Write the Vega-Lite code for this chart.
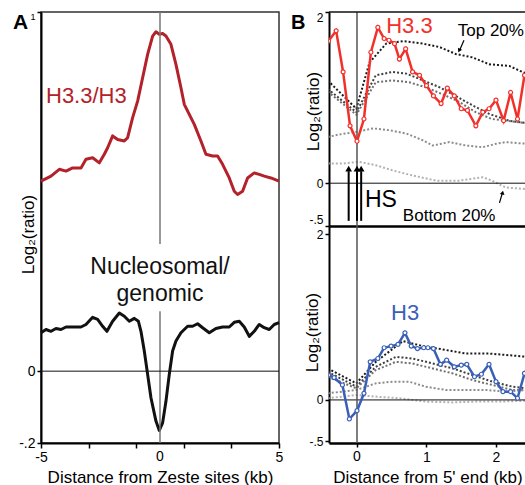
{
  "$schema": "https://vega.github.io/schema/vega-lite/v6.json",
  "padding": {"left": 12, "top": 10, "right": 0, "bottom": 0},
  "config": {
    "font": "Liberation Sans",
    "view": {"stroke": null},
    "axis": {"grid": false, "domainColor": "#000", "tickColor": "#000", "labelColor": "#000", "titleColor": "#000", "titleFontWeight": "normal", "labelFont": "Liberation Sans", "titleFont": "Liberation Sans"}
  },
  "datasets": {
    "zero": [{"v": 0}],
    "a": [
      {"s":"h33","x":-5.0,"y":0.529},{"s":"h33","x":-4.58,"y":0.543},{"s":"h33","x":-4.23,"y":0.562},{"s":"h33","x":-3.95,"y":0.557},{"s":"h33","x":-3.67,"y":0.566},{"s":"h33","x":-3.32,"y":0.566},{"s":"h33","x":-3.11,"y":0.590},{"s":"h33","x":-2.83,"y":0.594},{"s":"h33","x":-2.55,"y":0.580},{"s":"h33","x":-2.34,"y":0.604},{"s":"h33","x":-2.20,"y":0.622},{"s":"h33","x":-1.99,"y":0.655},{"s":"h33","x":-1.78,"y":0.645},{"s":"h33","x":-1.50,"y":0.641},{"s":"h33","x":-1.36,"y":0.650},{"s":"h33","x":-1.15,"y":0.706},{"s":"h33","x":-0.94,"y":0.752},{"s":"h33","x":-0.73,"y":0.817},{"s":"h33","x":-0.52,"y":0.882},{"s":"h33","x":-0.31,"y":0.933},{"s":"h33","x":-0.17,"y":0.945},{"s":"h33","x":-0.03,"y":0.938},{"s":"h33","x":0.11,"y":0.940},{"s":"h33","x":0.25,"y":0.933},{"s":"h33","x":0.46,"y":0.910},{"s":"h33","x":0.67,"y":0.854},{"s":"h33","x":0.88,"y":0.789},{"s":"h33","x":1.02,"y":0.743},{"s":"h33","x":1.23,"y":0.715},{"s":"h33","x":1.44,"y":0.687},{"s":"h33","x":1.72,"y":0.641},{"s":"h33","x":1.93,"y":0.604},{"s":"h33","x":2.21,"y":0.599},{"s":"h33","x":2.42,"y":0.599},{"s":"h33","x":2.63,"y":0.576},{"s":"h33","x":2.91,"y":0.538},{"s":"h33","x":3.12,"y":0.501},{"s":"h33","x":3.26,"y":0.492},{"s":"h33","x":3.47,"y":0.501},{"s":"h33","x":3.68,"y":0.538},{"s":"h33","x":3.96,"y":0.552},{"s":"h33","x":4.17,"y":0.548},{"s":"h33","x":4.38,"y":0.543},{"s":"h33","x":4.66,"y":0.538},{"s":"h33","x":5.0,"y":0.529},
      {"s":"nuc","x":-5.0,"y":0.107},{"s":"nuc","x":-4.79,"y":0.116},{"s":"nuc","x":-4.58,"y":0.111},{"s":"nuc","x":-4.37,"y":0.119},{"s":"nuc","x":-4.16,"y":0.116},{"s":"nuc","x":-3.95,"y":0.123},{"s":"nuc","x":-3.67,"y":0.123},{"s":"nuc","x":-3.32,"y":0.123},{"s":"nuc","x":-3.11,"y":0.130},{"s":"nuc","x":-2.83,"y":0.150},{"s":"nuc","x":-2.62,"y":0.144},{"s":"nuc","x":-2.41,"y":0.125},{"s":"nuc","x":-2.23,"y":0.111},{"s":"nuc","x":-1.99,"y":0.139},{"s":"nuc","x":-1.71,"y":0.162},{"s":"nuc","x":-1.50,"y":0.153},{"s":"nuc","x":-1.29,"y":0.139},{"s":"nuc","x":-1.08,"y":0.147},{"s":"nuc","x":-0.91,"y":0.139},{"s":"nuc","x":-0.80,"y":0.111},{"s":"nuc","x":-0.66,"y":0.056},{"s":"nuc","x":-0.52,"y":-0.009},{"s":"nuc","x":-0.38,"y":-0.074},{"s":"nuc","x":-0.17,"y":-0.139},{"s":"nuc","x":-0.03,"y":-0.165},{"s":"nuc","x":0.11,"y":-0.144},{"s":"nuc","x":0.25,"y":-0.084},{"s":"nuc","x":0.39,"y":-0.009},{"s":"nuc","x":0.53,"y":0.056},{"s":"nuc","x":0.67,"y":0.084},{"s":"nuc","x":0.88,"y":0.107},{"s":"nuc","x":1.16,"y":0.125},{"s":"nuc","x":1.37,"y":0.125},{"s":"nuc","x":1.58,"y":0.132},{"s":"nuc","x":1.79,"y":0.121},{"s":"nuc","x":2.07,"y":0.107},{"s":"nuc","x":2.35,"y":0.119},{"s":"nuc","x":2.63,"y":0.123},{"s":"nuc","x":2.91,"y":0.123},{"s":"nuc","x":3.12,"y":0.136},{"s":"nuc","x":3.33,"y":0.139},{"s":"nuc","x":3.54,"y":0.123},{"s":"nuc","x":3.75,"y":0.097},{"s":"nuc","x":3.96,"y":0.111},{"s":"nuc","x":4.17,"y":0.130},{"s":"nuc","x":4.38,"y":0.121},{"s":"nuc","x":4.59,"y":0.116},{"s":"nuc","x":4.80,"y":0.130},{"s":"nuc","x":5.0,"y":0.135}
    ],
    "b33": [
      {"x":-0.41,"y":1.66},{"x":-0.30,"y":1.78},{"x":-0.20,"y":1.30},{"x":-0.10,"y":0.67},{"x":0.0,"y":0.49},{"x":0.10,"y":0.75},{"x":0.20,"y":1.53},{"x":0.30,"y":1.82},{"x":0.39,"y":1.69},{"x":0.46,"y":1.67},{"x":0.54,"y":1.63},{"x":0.61,"y":1.45},{"x":0.70,"y":1.57},{"x":0.80,"y":1.30},{"x":0.90,"y":1.26},{"x":1.00,"y":1.14},{"x":1.10,"y":1.02},{"x":1.21,"y":0.93},{"x":1.30,"y":1.11},{"x":1.40,"y":1.02},{"x":1.50,"y":0.87},{"x":1.59,"y":0.85},{"x":1.71,"y":0.67},{"x":1.81,"y":0.83},{"x":1.90,"y":0.87},{"x":2.00,"y":0.97},{"x":2.11,"y":0.73},{"x":2.21,"y":1.06},{"x":2.31,"y":0.75},{"x":2.41,"y":1.26},{"x":2.50,"y":1.35}
    ],
    "b3": [
      {"x":-0.41,"y":0.30},{"x":-0.33,"y":0.27},{"x":-0.21,"y":0.18},{"x":-0.11,"y":-0.23},{"x":0.0,"y":-0.13},{"x":0.10,"y":0.08},{"x":0.19,"y":0.46},{"x":0.30,"y":0.50},{"x":0.39,"y":0.63},{"x":0.49,"y":0.65},{"x":0.59,"y":0.67},{"x":0.69,"y":0.81},{"x":0.78,"y":0.65},{"x":0.87,"y":0.62},{"x":0.96,"y":0.63},{"x":1.02,"y":0.63},{"x":1.10,"y":0.62},{"x":1.20,"y":0.43},{"x":1.29,"y":0.48},{"x":1.40,"y":0.40},{"x":1.50,"y":0.42},{"x":1.58,"y":0.43},{"x":1.69,"y":0.28},{"x":1.79,"y":0.31},{"x":1.90,"y":0.43},{"x":2.00,"y":0.22},{"x":2.10,"y":0.10},{"x":2.21,"y":0.10},{"x":2.31,"y":0.02},{"x":2.41,"y":0.32},{"x":2.50,"y":0.45}
    ],
    "qtop": [
      {"q":"q1","x":-0.42,"y":1.20},{"q":"q1","x":-0.01,"y":0.87},{"q":"q1","x":0.18,"y":1.41},{"q":"q1","x":0.42,"y":1.63},{"q":"q1","x":0.66,"y":1.66},{"q":"q1","x":0.95,"y":1.63},{"q":"q1","x":1.19,"y":1.59},{"q":"q1","x":1.42,"y":1.51},{"q":"q1","x":1.66,"y":1.47},{"q":"q1","x":1.90,"y":1.39},{"q":"q1","x":2.19,"y":1.37},{"q":"q1","x":2.38,"y":1.30},{"q":"q1","x":2.45,"y":1.28},
      {"q":"q2","x":-0.42,"y":1.10},{"q":"q2","x":-0.01,"y":0.83},{"q":"q2","x":0.27,"y":1.26},{"q":"q2","x":0.51,"y":1.30},{"q":"q2","x":0.71,"y":1.28},{"q":"q2","x":0.95,"y":1.20},{"q":"q2","x":1.19,"y":1.12},{"q":"q2","x":1.42,"y":1.02},{"q":"q2","x":1.66,"y":0.91},{"q":"q2","x":1.90,"y":0.81},{"q":"q2","x":2.19,"y":0.73},{"q":"q2","x":2.45,"y":0.70},
      {"q":"q3","x":-0.42,"y":1.07},{"q":"q3","x":-0.01,"y":0.80},{"q":"q3","x":0.27,"y":1.18},{"q":"q3","x":0.51,"y":1.20},{"q":"q3","x":0.75,"y":1.18},{"q":"q3","x":0.99,"y":1.12},{"q":"q3","x":1.23,"y":1.04},{"q":"q3","x":1.47,"y":0.95},{"q":"q3","x":1.71,"y":0.83},{"q":"q3","x":1.94,"y":0.75},{"q":"q3","x":2.24,"y":0.72},{"q":"q3","x":2.45,"y":0.70},
      {"q":"q4","x":-0.42,"y":0.54},{"q":"q4","x":-0.25,"y":0.57},{"q":"q4","x":-0.01,"y":0.60},{"q":"q4","x":0.23,"y":0.64},{"q":"q4","x":0.46,"y":0.62},{"q":"q4","x":0.71,"y":0.58},{"q":"q4","x":0.95,"y":0.50},{"q":"q4","x":1.09,"y":0.44},{"q":"q4","x":1.33,"y":0.48},{"q":"q4","x":1.57,"y":0.44},{"q":"q4","x":1.81,"y":0.42},{"q":"q4","x":2.00,"y":0.46},{"q":"q4","x":2.14,"y":0.48},{"q":"q4","x":2.45,"y":0.46},
      {"q":"q5","x":-0.42,"y":0.23},{"q":"q5","x":-0.20,"y":0.23},{"q":"q5","x":0.03,"y":0.25},{"q":"q5","x":0.27,"y":0.21},{"q":"q5","x":0.51,"y":0.15},{"q":"q5","x":0.80,"y":0.09},{"q":"q5","x":1.14,"y":0.03},{"q":"q5","x":1.47,"y":0.03},{"q":"q5","x":1.81,"y":0.07},{"q":"q5","x":1.94,"y":0.03},{"q":"q5","x":2.14,"y":-0.05},{"q":"q5","x":2.45,"y":-0.07}
    ],
    "qbot": [
      {"q":"q1","x":-0.42,"y":0.38},{"q":"q1","x":-0.01,"y":0.20},{"q":"q1","x":0.27,"y":0.46},{"q":"q1","x":0.66,"y":0.71},{"q":"q1","x":0.95,"y":0.65},{"q":"q1","x":1.23,"y":0.61},{"q":"q1","x":1.57,"y":0.56},{"q":"q1","x":1.90,"y":0.56},{"q":"q1","x":2.19,"y":0.54},{"q":"q1","x":2.45,"y":0.52},
      {"q":"q2","x":-0.42,"y":0.34},{"q":"q2","x":-0.01,"y":0.16},{"q":"q2","x":0.27,"y":0.40},{"q":"q2","x":0.56,"y":0.52},{"q":"q2","x":0.80,"y":0.50},{"q":"q2","x":1.09,"y":0.44},{"q":"q2","x":1.38,"y":0.38},{"q":"q2","x":1.66,"y":0.30},{"q":"q2","x":1.95,"y":0.22},{"q":"q2","x":2.24,"y":0.16},{"q":"q2","x":2.45,"y":0.14},
      {"q":"q3","x":-0.42,"y":0.28},{"q":"q3","x":-0.01,"y":0.14},{"q":"q3","x":0.27,"y":0.36},{"q":"q3","x":0.56,"y":0.46},{"q":"q3","x":0.80,"y":0.44},{"q":"q3","x":1.09,"y":0.38},{"q":"q3","x":1.38,"y":0.32},{"q":"q3","x":1.66,"y":0.24},{"q":"q3","x":1.95,"y":0.18},{"q":"q3","x":2.24,"y":0.12},{"q":"q3","x":2.45,"y":0.12},
      {"q":"q4","x":-0.42,"y":0.08},{"q":"q4","x":-0.01,"y":0.12},{"q":"q4","x":0.27,"y":0.20},{"q":"q4","x":0.51,"y":0.22},{"q":"q4","x":0.75,"y":0.22},{"q":"q4","x":0.99,"y":0.16},{"q":"q4","x":1.28,"y":0.12},{"q":"q4","x":1.57,"y":0.12},{"q":"q4","x":1.86,"y":0.12},{"q":"q4","x":2.14,"y":0.10},{"q":"q4","x":2.45,"y":0.12},
      {"q":"q5","x":-0.42,"y":0.02},{"q":"q5","x":-0.01,"y":0.06},{"q":"q5","x":0.27,"y":0.04},{"q":"q5","x":0.61,"y":0.02},{"q":"q5","x":0.99,"y":-0.02},{"q":"q5","x":1.38,"y":-0.03},{"q":"q5","x":1.71,"y":-0.02},{"q":"q5","x":2.05,"y":-0.02},{"q":"q5","x":2.45,"y":-0.01}
    ],
    "hs": [{"x":-0.12},{"x":0.0},{"x":0.06}]
  },
  "bounds": "flush",
  "spacing": 50,
  "resolve": {"scale": {"color": "independent"}},
  "hconcat": [
    {
      "width": 238,
      "height": 431,
      "view": {"stroke": "#333", "strokeWidth": 1.5},
      "layer": [
        {
          "data": {"name": "a"},
          "mark": {"type": "line", "strokeWidth": 3, "strokeJoin": "round"},
          "encoding": {
            "x": {"field": "x", "type": "quantitative", "scale": {"domain": [-5, 5], "nice": false, "zero": false},
              "axis": {"values": [-5,-4,-3,-2,-1,0,1,2,3,4,5], "labelExpr": "datum.value == -5 ? '-5' : datum.value == 5 ? '5' : ''", "labelFlush": false, "title": "Distance from Zeste sites (kb)", "titleFontSize": 17, "labelFontSize": 14, "tickSize": 5, "tickWidth": 1.5, "labelPadding": 2, "domainWidth": 2, "titleY": 39, "titleBaseline": "alphabetic"}},
            "y": {"field": "y", "type": "quantitative", "scale": {"domain": [-0.2, 1], "nice": false, "zero": false},
              "axis": {"values": [-0.2, 0, 1], "labelExpr": "datum.value == 1 ? '1' : datum.value == 0 ? '0' : '-.2'", "title": "Log₂(ratio)", "titleFontSize": 17, "labelFontSize": {"condition": {"test": "datum.value == 1", "value": 9}, "value": 14}, "labelBaseline": {"condition": {"test": "datum.value == 1", "value": "top"}, "value": "middle"}, "tickSize": 4, "tickWidth": 1.5, "domainWidth": 2, "titleX": -13, "titleY": 222, "titleBaseline": "middle", "titleAlign": "center"}},
            "color": {"field": "s", "type": "nominal", "scale": {"domain": ["h33", "nuc"], "range": ["#b3212b", "#111111"]}, "legend": null}
          }
        },
        {"data": {"name": "zero"}, "mark": {"type": "rule", "color": "#777", "strokeWidth": 1.5}, "encoding": {"x": {"field": "v", "type": "quantitative"}, "y": {"datum": 1}, "y2": {"datum": 0.354}}},
        {"data": {"name": "zero"}, "mark": {"type": "rule", "color": "#777", "strokeWidth": 1.5}, "encoding": {"x": {"field": "v", "type": "quantitative"}, "y": {"datum": 0.167}, "y2": {"datum": -0.2}}},
        {"data": {"name": "zero"}, "mark": {"type": "rule", "color": "#111", "strokeWidth": 1}, "encoding": {"y": {"field": "v", "type": "quantitative"}}},
        {"data": {"name": "zero"}, "mark": {"type": "text", "text": "0", "fontSize": 14, "color": "#000", "align": "center", "baseline": "top", "dy": 7}, "encoding": {"x": {"field": "v", "type": "quantitative"}, "y": {"datum": -0.2}}},
        {"data": {"values": [{}]}, "mark": {"type": "text", "text": "H3.3/H3", "fontSize": 22, "color": "#b3212b", "align": "left", "baseline": "alphabetic"}, "encoding": {"x": {"datum": -4.79}, "y": {"datum": 0.746}}},
        {"data": {"name": "zero"}, "mark": {"type": "text", "text": "Nucleosomal/", "fontSize": 23, "color": "#111", "align": "center", "baseline": "alphabetic"}, "encoding": {"x": {"field": "v", "type": "quantitative"}, "y": {"datum": 0.27}}},
        {"data": {"name": "zero"}, "mark": {"type": "text", "text": "genomic", "fontSize": 23, "color": "#111", "align": "center", "baseline": "alphabetic"}, "encoding": {"x": {"field": "v", "type": "quantitative"}, "y": {"datum": 0.195}}},
        {"data": {"values": [{}]}, "mark": {"type": "text", "text": "A", "fontSize": 21, "fontWeight": "bold", "color": "#000", "align": "left", "baseline": "alphabetic", "dx": -28, "dy": 17}, "encoding": {"x": {"datum": -5}, "y": {"datum": 1}}}
      ]
    },
    {
      "bounds": "flush",
      "spacing": 0,
      "resolve": {"scale": {"color": "independent"}},
      "vconcat": [
        {
          "width": 197,
          "height": 214,
          "layer": [
            {
              "data": {"name": "qtop"},
              "mark": {"type": "line", "strokeWidth": 2, "strokeDash": [2, 2], "clip": true},
              "encoding": {
                "x": {"field": "x", "type": "quantitative", "scale": {"domain": [-0.403, 2.432], "nice": false, "zero": false},
                  "axis": {"values": [0, 1, 2], "labels": false, "ticks": false, "title": null, "domainWidth": 2.5}},
                "y": {"field": "y", "type": "quantitative", "scale": {"domain": [-0.5, 2], "nice": false, "zero": false},
                  "axis": {"values": [-0.5, 0, 2], "labelExpr": "datum.value == 2 ? '2' : datum.value == 0 ? '0' : '-.5'", "labelFontSize": 12, "labelBaseline": {"condition": [{"test": "datum.value == 2", "value": "top"}, {"test": "datum.value < -0.1", "value": "bottom"}], "value": "middle"}, "tickSize": 4, "tickWidth": 1.5, "domainWidth": 2, "title": "Log₂(ratio)", "titleFontSize": 17, "titleX": -16, "titleY": 99, "titleBaseline": "middle", "titleAlign": "center"}},
                "color": {"field": "q", "type": "nominal", "scale": {"domain": ["q1","q2","q3","q4","q5"], "range": ["#1a1a1a","#3f3f3f","#707070","#8c8c8c","#b2b2b2"]}, "legend": null}
              }
            },
            {"data": {"name": "zero"}, "mark": {"type": "rule", "color": "#111", "strokeWidth": 1}, "encoding": {"y": {"field": "v", "type": "quantitative"}}},
            {"data": {"name": "zero"}, "mark": {"type": "rule", "color": "#555", "strokeWidth": 1.5}, "encoding": {"x": {"field": "v", "type": "quantitative"}}},
            {"data": {"values": [{}]}, "mark": {"type": "rule", "color": "#111", "strokeWidth": 1.5}, "encoding": {"y": {"datum": 2}}},
            {"data": {"name": "b33"}, "mark": {"type": "line", "color": "#f2302a", "strokeWidth": 2.5, "clip": true}, "encoding": {"x": {"field": "x", "type": "quantitative"}, "y": {"field": "y", "type": "quantitative"}}},
            {"data": {"name": "b33"}, "mark": {"type": "point", "filled": true, "fill": "#ffffff", "stroke": "#f2302a", "strokeWidth": 1.2, "size": 16, "opacity": 1, "clip": true}, "encoding": {"x": {"field": "x", "type": "quantitative"}, "y": {"field": "y", "type": "quantitative"}}},
            {"data": {"name": "hs"}, "mark": {"type": "rule", "color": "#000", "strokeWidth": 2}, "encoding": {"x": {"field": "x", "type": "quantitative"}, "y": {"datum": -0.44}, "y2": {"datum": 0.14}}},
            {"data": {"name": "hs"}, "mark": {"type": "point", "shape": "triangle-up", "filled": true, "color": "#000", "opacity": 1, "size": 45}, "encoding": {"x": {"field": "x", "type": "quantitative"}, "y": {"datum": 0.17}}},
            {"data": {"values": [{}]}, "mark": {"type": "rule", "color": "#000", "strokeWidth": 1.2}, "encoding": {"x": {"datum": 1.54}, "x2": {"datum": 1.48}, "y": {"datum": 1.67}, "y2": {"datum": 1.56}}},
            {"data": {"values": [{}]}, "mark": {"type": "point", "shape": "triangle-up", "filled": true, "color": "#000", "opacity": 1, "size": 22, "angle": 207}, "encoding": {"x": {"datum": 1.47}, "y": {"datum": 1.55}}},
            {"data": {"values": [{}]}, "mark": {"type": "rule", "color": "#000", "strokeWidth": 1.2}, "encoding": {"x": {"datum": 2.05}, "x2": {"datum": 2.09}, "y": {"datum": -0.23}, "y2": {"datum": -0.12}}},
            {"data": {"values": [{}]}, "mark": {"type": "point", "shape": "triangle-up", "filled": true, "color": "#000", "opacity": 1, "size": 22, "angle": 12}, "encoding": {"x": {"datum": 2.095}, "y": {"datum": -0.11}}},
            {"data": {"values": [{}]}, "mark": {"type": "text", "text": "H3.3", "fontSize": 22, "color": "#f2302a", "align": "left", "baseline": "alphabetic"}, "encoding": {"x": {"datum": 0.42}, "y": {"datum": 1.75}}},
            {"data": {"values": [{}]}, "mark": {"type": "text", "text": "Top 20%", "fontSize": 17, "color": "#000", "align": "left", "baseline": "alphabetic", "clip": true}, "encoding": {"x": {"datum": 1.45}, "y": {"datum": 1.72}}},
            {"data": {"values": [{}]}, "mark": {"type": "text", "text": "HS", "fontSize": 23, "color": "#000", "align": "center", "baseline": "middle"}, "encoding": {"x": {"datum": 0.345}, "y": {"datum": -0.2}}},
            {"data": {"values": [{}]}, "mark": {"type": "text", "text": "Bottom 20%", "fontSize": 17, "color": "#000", "align": "left", "baseline": "alphabetic"}, "encoding": {"x": {"datum": 0.66}, "y": {"datum": -0.44}}},
            {"data": {"values": [{}]}, "mark": {"type": "text", "text": "B", "fontSize": 20, "fontWeight": "bold", "color": "#000", "align": "left", "baseline": "alphabetic", "dx": -38, "dy": 17}, "encoding": {"x": {"datum": -0.403}, "y": {"datum": 2}}}
          ]
        },
        {
          "width": 197,
          "height": 217,
          "layer": [
            {
              "data": {"name": "qbot"},
              "mark": {"type": "line", "strokeWidth": 2, "strokeDash": [2, 2], "clip": true},
              "encoding": {
                "x": {"field": "x", "type": "quantitative", "scale": {"domain": [-0.403, 2.432], "nice": false, "zero": false},
                  "axis": {"values": [0, 1, 2], "labelExpr": "datum.value == 1 ? '1' : datum.value == 2 ? '2' : ''", "labelFontSize": 14, "tickSize": 4, "tickWidth": 1.5, "labelPadding": 3, "domainWidth": 2.5, "title": "Distance from 5' end (kb)", "titleFontSize": 17, "titleY": 39, "titleBaseline": "alphabetic"}},
                "y": {"field": "y", "type": "quantitative", "scale": {"domain": [-0.52, 2.1], "nice": false, "zero": false},
                  "axis": {"values": [-0.5, 0, 2], "labelExpr": "datum.value == 2 ? '2' : datum.value == 0 ? '0' : '-.5'", "labelFontSize": 12, "tickSize": 4, "tickWidth": 1.5, "domainWidth": 2, "title": "Log₂(ratio)", "titleFontSize": 17, "titleX": -16.5, "titleY": 106, "titleBaseline": "middle", "titleAlign": "center"}},
                "color": {"field": "q", "type": "nominal", "scale": {"domain": ["q1","q2","q3","q4","q5"], "range": ["#1a1a1a","#3f3f3f","#707070","#8c8c8c","#b2b2b2"]}, "legend": null}
              }
            },
            {"data": {"name": "zero"}, "mark": {"type": "rule", "color": "#111", "strokeWidth": 1}, "encoding": {"y": {"field": "v", "type": "quantitative"}}},
            {"data": {"name": "zero"}, "mark": {"type": "rule", "color": "#555", "strokeWidth": 1.5}, "encoding": {"x": {"field": "v", "type": "quantitative"}}},
            {"data": {"name": "zero"}, "mark": {"type": "text", "text": "0", "fontSize": 14, "color": "#000", "align": "center", "baseline": "top", "dy": 7}, "encoding": {"x": {"field": "v", "type": "quantitative"}, "y": {"datum": -0.52}}},
            {"data": {"name": "b3"}, "mark": {"type": "line", "color": "#3a5fb8", "strokeWidth": 2.5, "clip": true}, "encoding": {"x": {"field": "x", "type": "quantitative"}, "y": {"field": "y", "type": "quantitative"}}},
            {"data": {"name": "b3"}, "mark": {"type": "point", "filled": true, "fill": "#ffffff", "stroke": "#3a5fb8", "strokeWidth": 1.2, "size": 16, "opacity": 1, "clip": true}, "encoding": {"x": {"field": "x", "type": "quantitative"}, "y": {"field": "y", "type": "quantitative"}}},
            {"data": {"values": [{}]}, "mark": {"type": "text", "text": "H3", "fontSize": 22, "color": "#3a5fb8", "align": "left", "baseline": "alphabetic"}, "encoding": {"x": {"datum": 0.49}, "y": {"datum": 0.96}}}
          ]
        }
      ]
    }
  ]
}
